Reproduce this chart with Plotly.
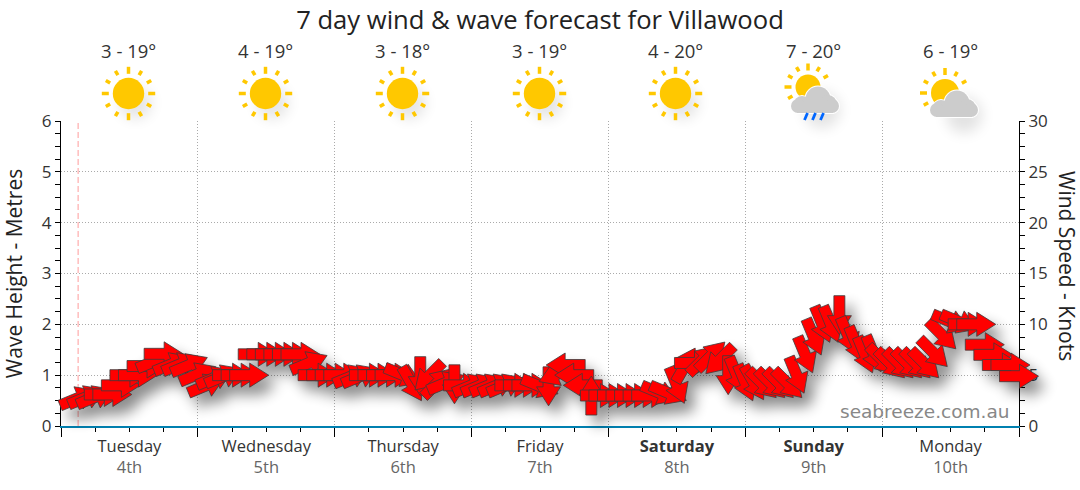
import math
import plotly.graph_objects as go

FONT = "Open Sans"
W, H = 1080, 490

# plot box in the page, pixels
BOX_L, BOX_R, BOX_T, BOX_B = 61, 1019, 121, 426

days = ["Tuesday", "Wednesday", "Thursday", "Friday", "<b>Saturday</b>", "<b>Sunday</b>", "Monday"]
dates = ["4th", "5th", "6th", "7th", "8th", "9th", "10th"]
temps = ["3 - 19°", "4 - 19°", "3 - 18°", "3 - 19°", "4 - 20°", "7 - 20°", "6 - 19°"]
icons = ["sun", "sun", "sun", "sun", "sun", "rain", "cloud"]

# one arrow per 1.5 hours, starting 3 hours into Tuesday
wave_height = [
    .55, .57, .57, .62, .62, .8, 1.0, 1.0, 1.18, 1.28, 1.42, 1.22, 1.22, 1.2, 1.02, .8, .95, .98,
    1.0, 1.0, 1.0, 1.41, 1.41, 1.41, 1.41, 1.41, 1.41, 1.24, 1.0, 1.0, 1.0, 1.0, .98, .98,
    1.0, 1.0, 1.0, 1.0, 1.0, .83, .98, .98, .85, .85, .82, .8, .8, .8, .8, .8, .8,
    .8, .8, .8, .78, .78, 1.02, 1.2, 1.0, .8, .6, .6, .6, .6, .6, .6, .6, .6, .65, .65, .8,
    1.2, 1.24, 1.3, 1.38, 1.3, 1.0, 1.0, .85, .85, .83, .83, .83, .83, 1.0, 1.4, 1.75, 2.0, 2.0, 2.18,
    1.78, 1.6, 1.4, 1.42, 1.3, 1.22, 1.22, 1.22, 1.22, 1.22, 1.44, 1.79, 2.05, 2.05, 2.0, 2.0,
    1.6, 1.4, 1.2, 1.2, .98,
]
# direction the arrow points, degrees anticlockwise from east
wave_dir = [
    22.5, 22.5, 22.5, 0, 0, 0, 0, 0, 0, 22.5, 0, 22.5, 22.5, 22.5, 22.5, 22.5, 22.5, 22.5,
    0, 0, 0, 0, 0, 0, 0, 0, 0, 22.5, 0, 0, 0, 0, 22.5, 22.5,
    0, 0, 0, 0, -22.5, -60, -90, -135, 45, 22.5, -90, 0, 22.5, 22.5, 22.5, 22.5, 22.5,
    0, 0, 0, -22.5, -90, 202.5, 180, 180, 180, 90, 0, 0, 0, 0, 0, 0, 0, -22.5, -22.5, -67.5,
    60, 0, 45, 45, -135, -90, -67.5, -67.5, -60, -45, -45, -45, -45, -67.5, -67.5, -67.5, -67.5, -67.5, -90,
    -67.5, -67.5, -67.5, -67.5, -45, -45, -45, -45, -45, -45, -45, -45, -22.5, -22.5, 0, 0,
    0, 0, 0, 0, 0,
]
arrow_hours = [3 + 1.5 * i for i in range(len(wave_height))]
assert len(wave_height) == len(wave_dir) == 111

hours_range = [0, 168]
height_range = [0, 6]
now_hour = 3

x_per_px = (hours_range[1] - hours_range[0]) / (BOX_R - BOX_L)
y_per_px = (height_range[1] - height_range[0]) / (BOX_B - BOX_T)

ARROW = [(-19.5, -5.5), (0.5, -5.5), (0.5, -12), (19.5, 0), (0.5, 12), (0.5, 5.5), (-19.5, 5.5)]
SHADOW_FILL = "rgb(1,1,1)"


def arrow_path(hour, height, direction, dx=0, dy=0):
    a = math.radians(direction)
    pts = []
    for px, py in ARROW:
        rx = px * math.cos(a) - py * math.sin(a) + dx
        ry = px * math.sin(a) + py * math.cos(a) - dy
        pts.append((hour + rx * x_per_px, height + ry * y_per_px))
    return "M" + "L".join(f"{x:.4f},{y:.4f}" for x, y in pts) + "Z"


def px_x(x):
    return x / W


def px_y(y):
    return 1 - y / H


def circle(cx, cy, r, color, opacity=1, line=0):
    return dict(type="circle", xref="paper", yref="paper", x0=px_x(cx - r), x1=px_x(cx + r),
                y0=px_y(cy + r), y1=px_y(cy - r), fillcolor=color, opacity=opacity,
                line=dict(color=color, width=line))


def sun(cx, cy, r, only_upper_left=False):
    out = [circle(cx, cy, r, "#ffc800")]
    for i in range(12):
        if only_upper_left and i in (9, 10, 11, 0, 8):
            continue
        a = math.radians(i * 30)
        r0, r1 = (r + 4, r + 11) if i % 3 == 0 else (r + 5.5, r + 10.5)
        out.append(dict(type="line", xref="paper", yref="paper",
                        x0=px_x(cx + r0 * math.cos(a)), x1=px_x(cx + r1 * math.cos(a)),
                        y0=px_y(cy - r0 * math.sin(a)), y1=px_y(cy - r1 * math.sin(a)),
                        line=dict(color="#ffc800", width=3.5)))
    return out


def cloud(cx, cy, color="#cccccc", line=0):
    # cx, cy is the middle of the flat base line
    out = [circle(cx - 13, cy + 2, 8, color, line=line), circle(cx + 3, cy - 3, 12.5, color, line=line),
           circle(cx + 13, cy + 2, 9, color, line=line),
           circle(cx - 17, cy + 4, 7, color, line=line), circle(cx + 17, cy + 4, 7, color, line=line)]
    out.append(dict(type="rect", xref="paper", yref="paper", x0=px_x(cx - 18), x1=px_x(cx + 18),
                    y0=px_y(cy + 11), y1=px_y(cy), fillcolor=color, line=dict(color=color, width=line)))
    return out


def rain(cx, cy):
    return [dict(type="line", xref="paper", yref="paper", x0=px_x(cx + off - 1.5), x1=px_x(cx + off + 1.5),
                 y0=px_y(cy + 7), y1=px_y(cy), line=dict(color="#0066ff", width=2.8)) for off in (-8, 0, 8)]


shapes = [
    dict(type="line", xref="x", yref="y", x0=now_hour, x1=now_hour, y0=0, y1=6,
         line=dict(color="#ff9c9c", width=1, dash="6px,3px")),
]

# drop shadow in one path so overlaps do not get darker, blurred at the end of the file
all_shadow = "".join(arrow_path(h, v, d, 8, 10) for h, v, d in zip(arrow_hours, wave_height, wave_dir))
shapes.append(dict(type="path", xref="x2", yref="y3", path=all_shadow, fillrule="nonzero",
                   fillcolor=SHADOW_FILL, opacity=.45, line_width=0))

for h, v, d in zip(arrow_hours, wave_height, wave_dir):
    shapes.append(dict(type="path", xref="x2", yref="y3", path=arrow_path(h, v, d),
                       fillcolor="#ff0000", line=dict(color="#3c3c3c", width=.8)))

icon_x = [128.5, 265.5, 402.5, 539.5, 675.5, 813, 950]
for x, kind in zip(icon_x, icons):
    if kind == "sun":
        shapes.append(circle(x + 7, 103, 16, SHADOW_FILL, .1))
        shapes += sun(x, 93.5, 15.7)
    elif kind == "rain":
        shapes.append(circle(x + 9, 110, 18, SHADOW_FILL, .11))
        shapes += sun(808, 87, 12.5, True)
        shapes += cloud(815, 102, "#ffffff", 2)
        shapes += cloud(815, 102)
        shapes += rain(814, 113)
    else:
        shapes.append(circle(x + 14, 115, 18, SHADOW_FILL, .11))
        shapes += sun(945, 93, 14, True)
        shapes += cloud(954, 106, "#ffffff", 2)
        shapes += cloud(954, 106)

annotations = [
    dict(x=px_x(x), y=px_y(50), xref="paper", yref="paper", text=t, showarrow=False, xanchor="center",
         yanchor="middle", font=dict(family=FONT, size=18.5, color="#333333"))
    for x, t in zip(icon_x, temps)
]
annotations.append(dict(x=px_x(1012), y=px_y(411), xref="paper", yref="paper", text="seabreeze.com.au",
                        showarrow=False, xanchor="right", yanchor="middle",
                        font=dict(family="DejaVu Sans", size=18.5, color="#888888")))
annotations.append(dict(x=px_x(1067), y=px_y(266), xref="paper", yref="paper", text="Wind Speed - Knots",
                        showarrow=False, textangle=90, xanchor="center", yanchor="middle",
                        font=dict(family=FONT, size=21, color="#222222")))

tick_hours = [h for h in range(6, 168, 6) if h % 24]
tick_text = []
for h in tick_hours:
    if h % 24 == 12:
        i = h // 24
        tick_text.append(f'{days[i]}<br><span style="color:#666666">{dates[i]}</span>')
    else:
        tick_text.append("")

fig = go.Figure()
fig.add_trace(go.Scatter(x=[0, 168], y=[0, 0], mode="lines", line=dict(color="rgba(0,0,0,0)"), hoverinfo="skip",
                         showlegend=False))
fig.add_trace(go.Scatter(x=[0, 168], y=[0, 0], yaxis="y2", mode="lines", line=dict(color="rgba(0,0,0,0)"),
                         hoverinfo="skip", showlegend=False))
fig.add_trace(go.Scatter(x=[0], y=[0], xaxis="x2", yaxis="y3", mode="lines", hoverinfo="skip", showlegend=False))

DOTS = "1px,2px"
dom_x = [BOX_L / W, BOX_R / W]
dom_y = [1 - BOX_B / H, 1 - BOX_T / H]

# hidden copy of the axes spread over the whole page, arrows may run past the plot box
x2_range = [-BOX_L * x_per_px, (W - BOX_L) * x_per_px]
y3_range = [-(H - BOX_B) * y_per_px, BOX_B * y_per_px]

fig.update_layout(
    width=W, height=H, autosize=False,
    margin=dict(l=0, r=0, t=0, b=0, autoexpand=False),
    paper_bgcolor="white", plot_bgcolor="rgba(0,0,0,0)",
    showlegend=False,
    title=dict(text="7 day wind &amp; wave forecast for Villawood", x=0.5, y=1 - 20 / H, xanchor="center",
               yanchor="middle", font=dict(family=FONT, size=25.6, color="#222222")),
    xaxis=dict(domain=dom_x, range=hours_range, tickmode="array", tickvals=tick_hours, ticktext=tick_text,
               ticks="outside", ticklen=4, tickcolor="#000000", showgrid=False, zeroline=False,
               showline=True, linecolor="#0080b0", linewidth=2,
               tickfont=dict(family=FONT, size=16.5, color="#333333"),
               minor=dict(tickmode="array", tickvals=list(range(0, 169, 24)), ticks="outside", ticklen=9,
                          tickcolor="#000000", showgrid=True, gridcolor="#aaaaaa", griddash=DOTS)),
    yaxis=dict(domain=dom_y, range=height_range, dtick=1, ticks="outside", ticklen=5, tickcolor="#000000",
               showline=True, linecolor="#000000", zeroline=False,
               showgrid=True, gridcolor="#aaaaaa", griddash=DOTS, gridwidth=1,
               tickfont=dict(family=FONT, size=17, color="#333333"),
               title=dict(text="Wave Height - Metres", font=dict(family=FONT, size=21, color="#222222")),
               minor=dict(dtick=.25, ticks="outside", ticklen=5, tickcolor="#000000", showgrid=False)),
    yaxis2=dict(domain=dom_y, range=[0, 30], dtick=5, overlaying="y", side="right", ticks="outside", ticklen=5,
                tickcolor="#000000", showline=True, linecolor="#000000", showgrid=False, zeroline=False,
                tickfont=dict(family=FONT, size=17, color="#333333"),
                minor=dict(dtick=1.25, ticks="outside", ticklen=5, tickcolor="#000000", showgrid=False)),
    xaxis2=dict(domain=[0, 1], range=x2_range, visible=False, anchor="y3"),
    yaxis3=dict(domain=[0, 1], range=y3_range, visible=False, anchor="x2"),
    shapes=shapes,
    annotations=annotations,
)

# page margin off, and the soft blur plotly has no option for
post = """
document.body.style.margin = '0';
document.querySelectorAll('.shapelayer path').forEach(function (p) {
  if (p.style.fill === 'rgb(1, 1, 1)') { p.style.filter = 'blur(7px)'; }
});
"""
fig.write_html("out.html", config=dict(displayModeBar=False), post_script=post)
